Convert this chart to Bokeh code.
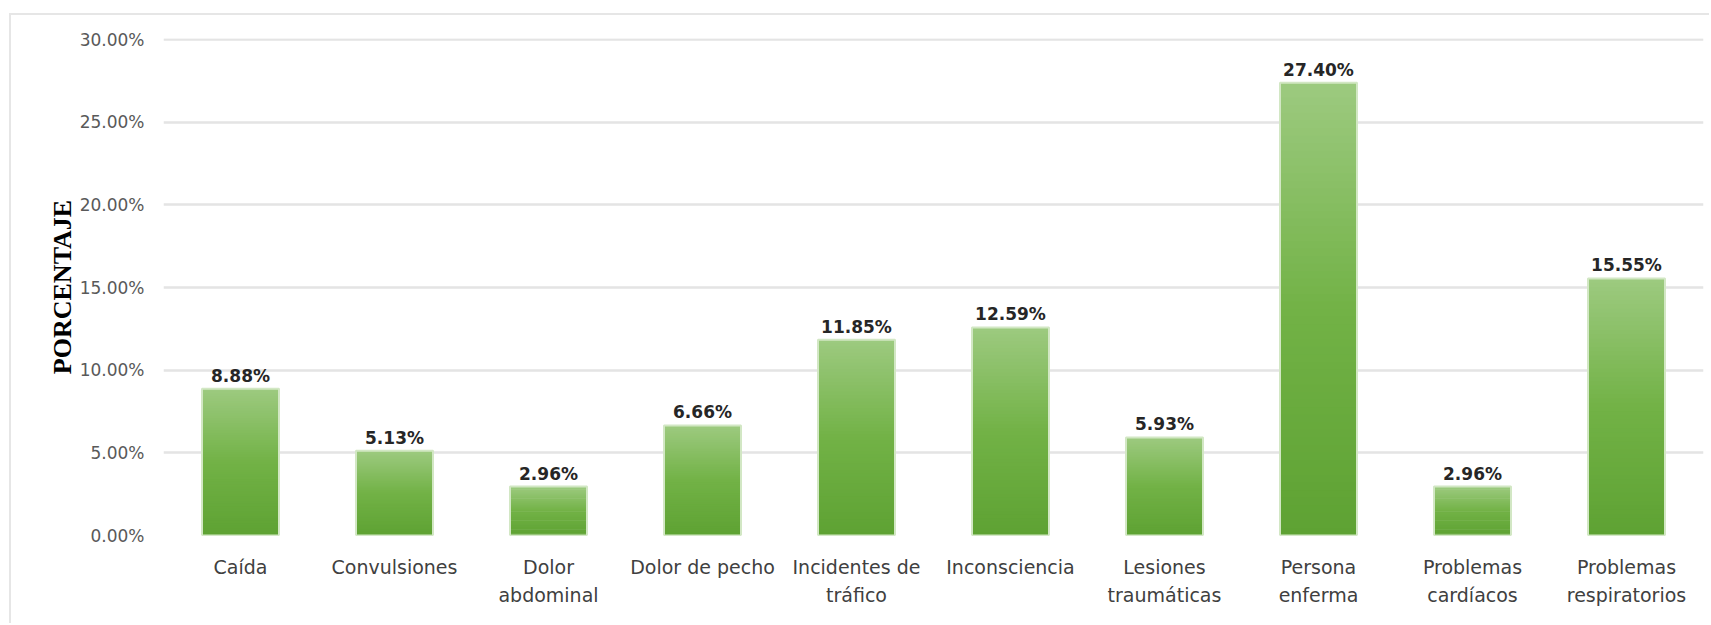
import numpy as np
from bokeh.plotting import figure
from bokeh.models import (ColumnDataSource, FactorRange, Range1d, FixedTicker, NumeralTickFormatter,
                          CategoricalAxis, CustomJSTickFormatter)
from bokeh.embed import file_html
from bokeh.resources import INLINE
from bokeh.core.properties import value

categories = ["Caída", "Convulsiones", "Dolor abdominal", "Dolor de pecho", "Incidentes de tráfico",
              "Inconsciencia", "Lesiones traumáticas", "Persona enferma", "Problemas cardíacos",
              "Problemas respiratorios"]
tick_text = ["Caída", "Convulsiones", "Dolor\nabdominal", "Dolor de pecho", "Incidentes de\ntráfico",
             "Inconsciencia", "Lesiones\ntraumáticas", "Persona\nenferma", "Problemas\ncardíacos",
             "Problemas\nrespiratorios"]
percentages = [0.0888, 0.0513, 0.0296, 0.0666, 0.1185, 0.1259, 0.0593, 0.2740, 0.0296, 0.1555]
value_labels = ["8.88%", "5.13%", "2.96%", "6.66%", "11.85%", "12.59%", "5.93%", "27.40%", "2.96%", "15.55%"]
y_ticks = [0.0, 0.05, 0.10, 0.15, 0.20, 0.25, 0.30]
y_title = "PORCENTAJE"

W, H = 1700, 610
TOP, BOTTOM = 23, 90
y_end = 0.3007
p = figure(width=W, height=H, output_backend="svg", toolbar_location=None,
           x_range=FactorRange(*categories, range_padding=0.0), y_range=Range1d(0, y_end),
           min_border_left=152, min_border_right=8, min_border_top=TOP, min_border_bottom=BOTTOM)
p.styles = {"margin-left": "9px", "margin-top": "13px", "border-left": "2px solid #E6E6E6",
            "border-top": "2px solid #E6E6E6"}
p.outline_line_color = None
p.background_fill_color = "white"
p.border_fill_color = "white"

# gradient bars: slices derived from each bar's value
N = 60
top_c = np.array([0x9D, 0xCA, 0x80])
mid_c = np.array([0x72, 0xB2, 0x46])
bot_c = np.array([0x5E, 0xA2, 0x33])
xs, bots, tops, cols = [], [], [], []
for cat, v in zip(categories, percentages):
    for k in range(N):
        f = (k + 0.5) / N  # 0 bottom -> 1 top
        if f < 0.5:
            c = bot_c + (mid_c - bot_c) * (f / 0.5)
        else:
            c = mid_c + (top_c - mid_c) * ((f - 0.5) / 0.5)
        xs.append(cat)
        bots.append(v * k / N)
        tops.append(min(v, v * (k + 1.8) / N))
        cols.append("#%02x%02x%02x" % tuple(int(round(t)) for t in c))
src = ColumnDataSource(dict(x=xs, bottom=bots, top=tops, color=cols))
p.vbar(x="x", bottom="bottom", top="top", width=0.5, source=src, fill_color="color", line_color=None)

bsrc = ColumnDataSource(dict(x=categories, top=percentages, label=value_labels))
p.vbar(x="x", top="top", width=0.5, source=bsrc, fill_color=None, line_color="#D2E7C4", line_width=2)

p.text(x="x", y="top", text="label", source=bsrc, text_align="center", text_baseline="bottom",
       y_offset=-3, text_font=value("DejaVu Sans"), text_font_size="17px", text_font_style="bold",
       text_color="#262626")

# grid
p.xgrid.grid_line_color = None
p.ygrid.grid_line_color = "#E4E4E4"
p.ygrid.grid_line_width = 2.5
p.ygrid.level = "underlay"
p.yaxis.ticker = FixedTicker(ticks=y_ticks)
p.ygrid.ticker = FixedTicker(ticks=y_ticks)
p.yaxis.formatter = NumeralTickFormatter(format="0.00%")
p.yaxis.axis_line_color = None
p.yaxis.major_tick_line_color = None
p.yaxis.minor_tick_line_color = None
p.yaxis.major_label_text_font = "DejaVu Sans"
p.yaxis.major_label_text_font_size = "17px"
p.yaxis.major_label_text_color = "#595959"
p.yaxis.major_label_standoff = 13
p.yaxis.axis_label = y_title
p.yaxis.axis_label_text_font = "Liberation Serif"
p.yaxis.axis_label_text_font_style = "bold"
p.yaxis.axis_label_text_font_size = "26px"
p.yaxis.axis_label_text_color = "#000000"
p.yaxis.axis_label_standoff = 0

# category labels below the frame, in two lines (two stacked axes)
line1 = [t.split("\n")[0] for t in tick_text]
line2 = [t.split("\n")[1] if "\n" in t else " " for t in tick_text]

def style_axis(ax, lines, standoff):
    ax.axis_line_color = None
    ax.major_tick_line_color = None
    ax.minor_tick_line_color = None
    ax.major_tick_out = 0
    ax.major_tick_in = 0
    ax.formatter = CustomJSTickFormatter(args=dict(cats=categories, lines=lines),
                                         code="const i = cats.indexOf(tick); return i >= 0 ? lines[i] : tick;")
    ax.major_label_text_font = "DejaVu Sans"
    ax.major_label_text_font_size = "19px"
    ax.major_label_text_color = "#404040"
    ax.major_label_standoff = standoff

style_axis(p.xaxis[0], line1, 20)
ax2 = CategoricalAxis()
style_axis(ax2, line2, 3)
p.add_layout(ax2, "below")

open("out.html", "w").write(file_html(p, INLINE))
